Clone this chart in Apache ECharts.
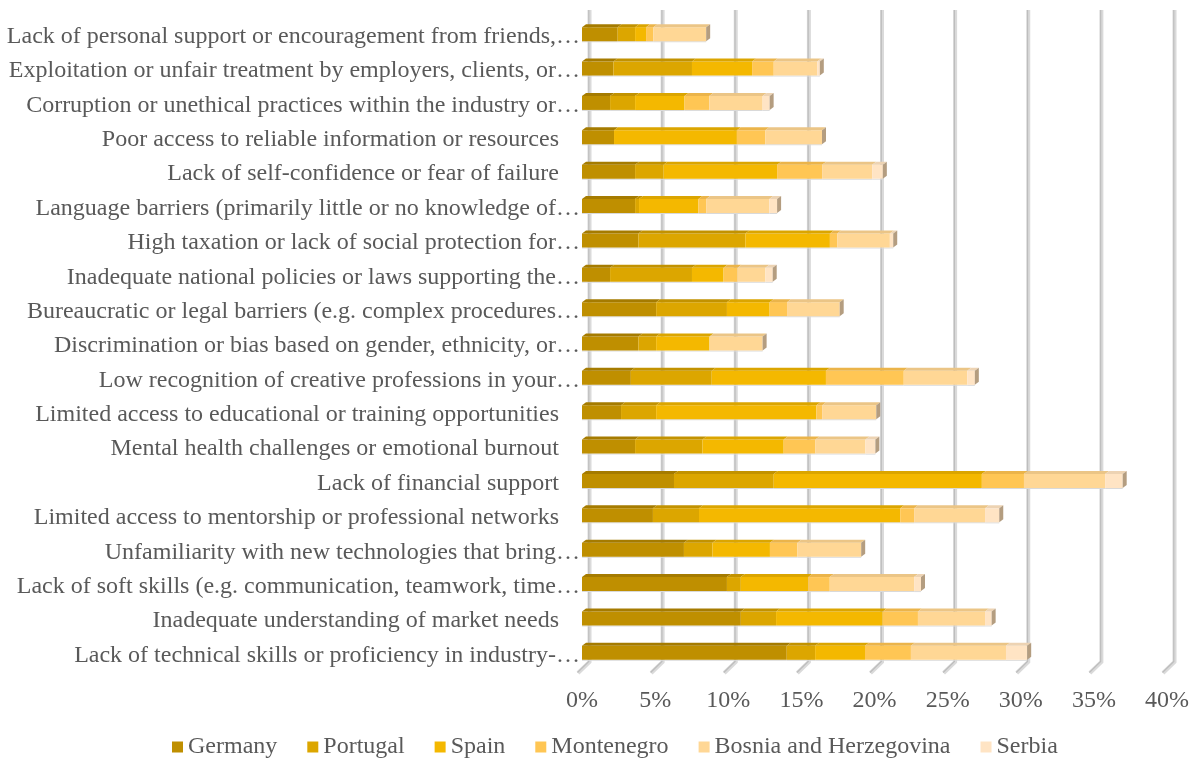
<!DOCTYPE html>
<html>
<head>
<meta charset="utf-8">
<title>Barriers by country</title>
<script src="https://cdn.jsdelivr.net/npm/echarts@6/dist/echarts.min.js"></script>
<style>
  html, body { margin: 0; padding: 0; background: #ffffff; }
  #chart { width: 1194px; height: 769px; }
</style>
</head>
<body>
<div id="chart"></div>
<script>
// Categories, listed top to bottom as they appear on the axis
const categories = [
  'Lack of personal support or encouragement from friends,…',
  'Exploitation or unfair treatment by employers, clients, or…',
  'Corruption or unethical practices within the industry or…',
  'Poor access to reliable information or resources',
  'Lack of self-confidence or fear of failure',
  'Language barriers (primarily little or no knowledge of…',
  'High taxation or lack of social protection for…',
  'Inadequate national policies or laws supporting the…',
  'Bureaucratic or legal barriers (e.g. complex procedures…',
  'Discrimination or bias based on gender, ethnicity, or…',
  'Low recognition of creative professions in your…',
  'Limited access to educational or training opportunities',
  'Mental health challenges or emotional burnout',
  'Lack of financial support',
  'Limited access to mentorship or professional networks',
  'Unfamiliarity with new technologies that bring…',
  'Lack of soft skills (e.g. communication, teamwork, time…',
  'Inadequate understanding of market needs',
  'Lack of technical skills or proficiency in industry-…'
];

const seriesNames = ['Germany', 'Portugal', 'Spain', 'Montenegro', 'Bosnia and Herzegovina', 'Serbia'];

// Share of respondents (%) per country, same order as categories
const germany    = [2.44, 2.15, 1.92, 2.19, 3.63, 3.63, 3.86, 1.92, 5.07, 3.86, 3.34, 2.67, 3.63, 6.29, 4.85, 6.97, 9.91, 10.86, 14.00];
const portugal   = [1.19, 5.37, 1.71, 0.00, 1.94, 0.27, 7.31, 5.60, 4.84, 1.21, 5.53, 2.40, 4.61, 6.82, 3.15, 1.95, 0.95, 2.41, 1.94];
const spain      = [0.75, 4.11, 3.38, 8.40, 7.77, 4.06, 5.78, 2.16, 2.92, 3.65, 7.81, 10.96, 5.55, 14.23, 13.76, 3.93, 4.61, 7.29, 3.41];
const montenegro = [0.50, 1.48, 1.69, 1.94, 3.08, 0.53, 0.50, 0.96, 1.19, 0.00, 5.32, 0.39, 2.17, 2.88, 0.95, 1.88, 1.47, 2.41, 3.14];
const bosnia     = [3.61, 2.97, 3.65, 3.88, 3.42, 4.32, 3.60, 1.90, 3.60, 3.63, 4.34, 3.70, 3.42, 5.55, 4.85, 4.36, 5.77, 4.59, 6.50];
const serbia     = [0.00, 0.18, 0.48, 0.00, 0.73, 0.53, 0.23, 0.50, 0.00, 0.00, 0.52, 0.00, 0.68, 1.20, 0.97, 0.00, 0.47, 0.45, 1.45];

// Axis ticks (%)
const xTicks = [0, 5, 10, 15, 20, 25, 30, 35, 40];

const seriesValues = [germany, portugal, spain, montenegro, bosnia, serbia];

// Front and top face colours of each country's segments
const frontColors = ['#BF8F00', '#DCA600', '#F4B800', '#FFC654', '#FFD795', '#FFE4C4'];
const topColors   = ['#A57B00', '#C29200', '#DBA500', '#EBB44A', '#EBC586', '#EDD3B3'];
const capColor = '#B49D80';
const textColor = '#595959';
const fontFamily = "'Liberation Serif', 'Times New Roman', serif";

// Bar shape: front face spans cy-UP .. cy+DOWN, 3D depth offsets
const UP = 6, DOWN = 8, DX = 4, DY = 3;

// Build stacked ranges [start, end, categoryIndex] for every country
const stacks = seriesValues.map(() => []);
const lastSeriesOf = [];
categories.forEach((c, ci) => {
  let acc = 0;
  let last = 0;
  seriesValues.forEach((vals, si) => {
    const v = vals[ci];
    stacks[si].push([acc, acc + v, ci]);
    if (v > 0) last = si;
    acc += v;
  });
  lastSeriesOf.push(last);
});

function makeBarRenderer(si) {
  return function (params, api) {
    const start = api.value(0), end = api.value(1), ci = api.value(2);
    if (end - start <= 0) return null;
    const p0 = api.coord([start, ci]);
    const p1 = api.coord([end, ci]);
    const cy = p0[1];
    const x0 = p0[0], x1 = p1[0];
    const children = [
      { type: 'rect', shape: { x: x0, y: cy + DOWN, width: x1 - x0, height: 1 },
        style: { fill: '#d9d9d9' } },
      { type: 'rect', shape: { x: x0, y: cy - UP, width: x1 - x0, height: UP + DOWN },
        style: { fill: frontColors[si] } },
      { type: 'polygon', shape: { points: [[x0, cy - UP], [x1, cy - UP], [x1 + DX, cy - UP - DY], [x0 + DX, cy - UP - DY]] },
        style: { fill: topColors[si] } }
    ];
    if (lastSeriesOf[ci] === si) {
      children.push({ type: 'polygon',
        shape: { points: [[x1, cy - UP], [x1 + DX, cy - UP - DY], [x1 + DX, cy + DOWN - DY], [x1, cy + DOWN]] },
        style: { fill: capColor } });
    }
    return { type: 'group', children: children };
  };
}

// Gridlines on the back wall with a slanted foot on the floor
function renderGrid(params, api) {
  const cs = params.coordSys;
  const x = api.coord([api.value(0), 0])[0];
  const bottom = cs.y + cs.height;
  const pts = [[x + 7.5, cs.y - 6], [x + 7.5, bottom - 7], [x - 4, bottom + 4]];
  const inner = [[x + 6.8, cs.y - 6], [x + 6.8, bottom - 7.5], [x - 4.5, bottom + 3.5]];
  return {
    type: 'group',
    children: [
      { type: 'polyline', shape: { points: pts }, style: { stroke: '#dadada', lineWidth: 4, fill: null } },
      { type: 'polyline', shape: { points: inner }, style: { stroke: '#bdbdbd', lineWidth: 1.2, fill: null } }
    ]
  };
}

const series = [{
  name: 'grid',
  type: 'custom',
  silent: true,
  z: 1,
  renderItem: renderGrid,
  encode: { x: 0, y: 1 },
  data: xTicks.map(v => [v, 0])
}].concat(seriesNames.map((name, si) => ({
  name: name,
  type: 'custom',
  z: 2,
  color: frontColors[si],
  renderItem: makeBarRenderer(si),
  encode: { x: [0, 1], y: 2 },
  data: stacks[si]
})));

const chart = echarts.init(document.getElementById('chart'), null, { renderer: 'canvas' });
chart.setOption({
  animation: false,
  backgroundColor: '#ffffff',
  textStyle: { fontFamily: fontFamily, color: textColor },
  grid: { left: 582, right: 27, top: 16, bottom: 100, containLabel: false },
  xAxis: {
    type: 'value',
    min: 0,
    max: 40,
    interval: 5,
    axisLine: { show: false },
    axisTick: { show: false },
    splitLine: { show: false },
    axisLabel: {
      formatter: '{value}%',
      fontSize: 24,
      fontFamily: fontFamily,
      color: textColor,
      margin: 20
    }
  },
  yAxis: {
    type: 'category',
    data: categories,
    inverse: true,
    axisLine: { show: false },
    axisTick: { show: false },
    splitLine: { show: false },
    axisLabel: {
      margin: 2,
      fontSize: 24,
      fontFamily: fontFamily,
      color: textColor,
      formatter: function (v) {
        return v.endsWith('…') ? '{e|' + v + '}' : '{n|' + v + '}';
      },
      rich: {
        e: { fontSize: 24, fontFamily: fontFamily, color: textColor, padding: [7, 0, 0, 0] },
        n: { fontSize: 24, fontFamily: fontFamily, color: textColor, padding: [7, 21, 0, 0] }
      }
    }
  },
  legend: {
    data: seriesNames,
    left: 167,
    top: 730,
    icon: 'rect',
    itemWidth: 11,
    itemHeight: 11,
    itemGap: 30,
    textStyle: { fontSize: 24, fontFamily: fontFamily, color: textColor }
  },
  series: series
});
</script>
</body>
</html>
